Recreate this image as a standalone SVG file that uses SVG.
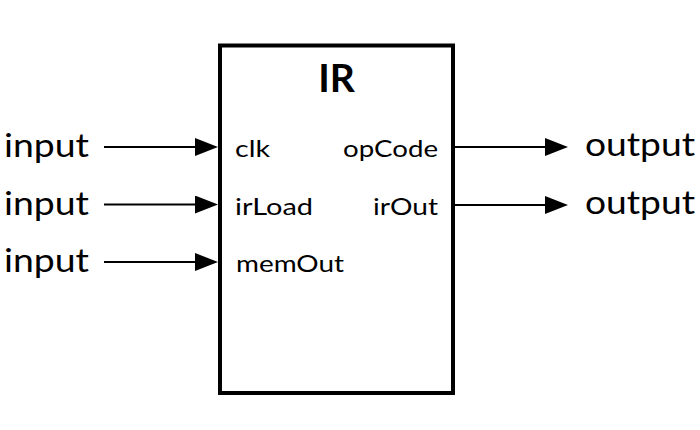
<svg xmlns="http://www.w3.org/2000/svg" width="700" height="430" viewBox="0 0 700 430">
<style>
.box{fill:#fff;stroke:#000;stroke-width:4}
.title{font-family:Lato,"Liberation Sans",sans-serif;font-weight:bold;font-size:39px;fill:#000}
.port{font-family:Lato,"Liberation Sans",sans-serif;font-size:23px;fill:#000}
.io{font-family:Lato,"Liberation Sans",sans-serif;font-size:33px;fill:#000}
.wire{stroke:#000;stroke-width:2;fill:none;marker-end:url(#arr)}
</style>
<defs>
<marker id="arr" markerUnits="userSpaceOnUse" markerWidth="24" markerHeight="18" refX="0" refY="9" orient="auto">
<path d="M0,0 L23,9 L0,18 Z" fill="#000"/>
</marker>
</defs>
<rect width="700" height="430" fill="#fff"/>
<g id="IR">
<rect class="box" x="220" y="45.5" width="233" height="347.5"/>
<text class="title" x="336.5" y="91.7" text-anchor="middle">IR</text>
<text class="port" x="235" y="157" textLength="35" lengthAdjust="spacingAndGlyphs">clk</text>
<text class="port" x="235" y="214.5" textLength="78" lengthAdjust="spacingAndGlyphs">irLoad</text>
<text class="port" x="236" y="272" textLength="108" lengthAdjust="spacingAndGlyphs">memOut</text>
<text class="port" x="343" y="157" textLength="95" lengthAdjust="spacingAndGlyphs">opCode</text>
<text class="port" x="373" y="214.5" textLength="65" lengthAdjust="spacingAndGlyphs">irOut</text>
</g>
<g id="in1"><text class="io" x="4" y="157" textLength="85" lengthAdjust="spacingAndGlyphs">input</text></g>
<g id="in2"><text class="io" x="4" y="214.5" textLength="85" lengthAdjust="spacingAndGlyphs">input</text></g>
<g id="in3"><text class="io" x="4" y="272" textLength="85" lengthAdjust="spacingAndGlyphs">input</text></g>
<g id="out1"><text class="io" x="585" y="156" textLength="110" lengthAdjust="spacingAndGlyphs">output</text></g>
<g id="out2"><text class="io" x="585" y="214" textLength="110" lengthAdjust="spacingAndGlyphs">output</text></g>
<g id="connectors">
<line class="wire" x1="104" y1="147" x2="195" y2="147"/>
<line class="wire" x1="104" y1="204.5" x2="195" y2="204.5"/>
<line class="wire" x1="104" y1="262" x2="195" y2="262"/>
<line class="wire" x1="455" y1="147" x2="545" y2="147"/>
<line class="wire" x1="455" y1="205" x2="545" y2="205"/>
</g>
</svg>
